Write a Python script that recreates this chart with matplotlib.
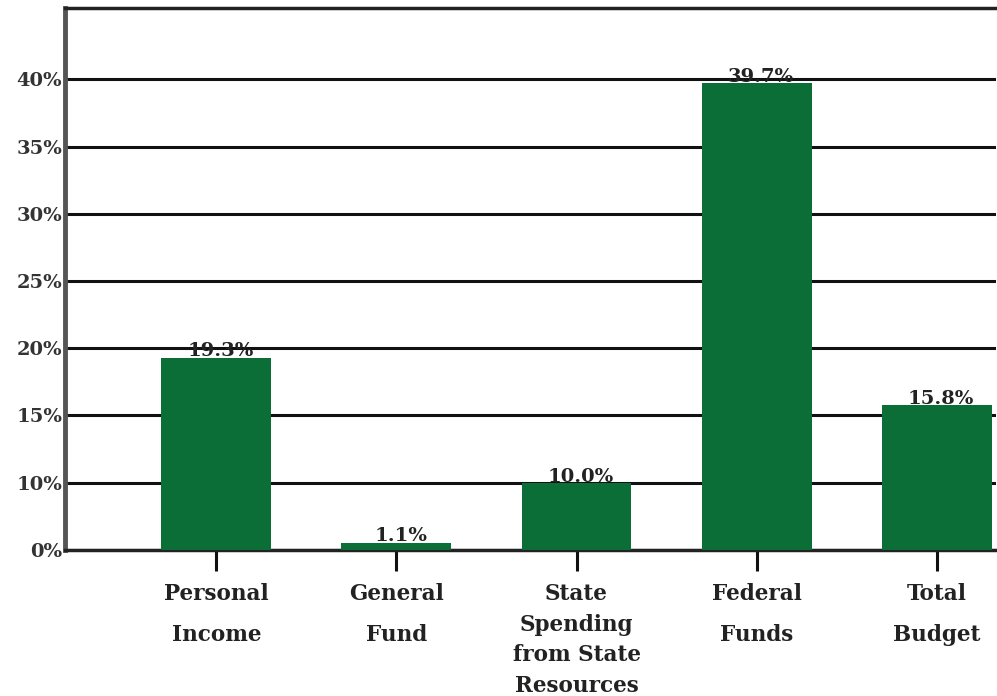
import numpy as np
import matplotlib
matplotlib.use("Agg")
import matplotlib.pyplot as plt

categories = ["Personal\nIncome", "General\nFund", "State\nSpending\nfrom State\nResources",
              "Federal\nFunds", "Total\nBudget"]
values = [19.3, 1.1, 10.0, 39.7, 15.8]
yticks = [0, 10, 15, 20, 25, 30, 35, 40]
ytick_labels = ["0%", "10%", "15%", "20%", "25%", "30%", "35%", "40%"]

GREEN = "#0b6e36"
FONT = "DejaVu Serif"

# axis is broken: 0-10% squeezed into one 5% step
def fwd(y):
    y = np.asarray(y, dtype=float)
    return np.where(y <= 10, y * 0.5, y - 5)
def inv(y):
    y = np.asarray(y, dtype=float)
    return np.where(y <= 5, y * 2, y + 5)

fig = plt.figure(figsize=(9.97, 6.96), dpi=100)
ax = fig.add_axes([0.0652, 0.2098, 0.934, 0.7787])
ax.set_yscale("function", functions=(fwd, inv))

x = np.arange(len(values))
bars = ax.bar(x, values, width=0.61, color=GREEN, zorder=3)
for rect, v in zip(bars, values):
    ax.annotate(f"{v:.1f}%", (rect.get_x() + rect.get_width() / 2, v), xytext=(3, -2),
                textcoords="offset points", ha="center", va="bottom",
                fontsize=14, fontweight="bold", family=FONT, color="#222222", zorder=4)

ax.set_xlim(-0.84, 4.33)
ax.set_ylim(0, 45.3)
ax.set_yticks(yticks)
ax.set_yticklabels(ytick_labels, family=FONT, fontsize=14, fontweight="bold", color="#333333")
ax.yaxis.set_minor_locator(matplotlib.ticker.NullLocator())
ax.tick_params(axis="y", length=0, pad=2)
ax.set_xticks(x)
ax.set_xticklabels(categories, family=FONT, fontsize=15.5, fontweight="bold", color="#222222")
for i, lbl in enumerate(ax.get_xticklabels()):
    lbl.set_linespacing(1.5 if i == 2 else 2.1)
ax.tick_params(axis="x", length=15, width=2.2, color="#111111", pad=9)

ax.grid(axis="y", color="#111111", lw=2.2, zorder=1)
ax.set_axisbelow(True)
ax.spines["left"].set_color("#555555")
ax.spines["left"].set_linewidth(3.5)
ax.spines["top"].set_color("#222222")
ax.spines["top"].set_linewidth(2.5)
ax.spines["bottom"].set_color("#222222")
ax.spines["bottom"].set_linewidth(2.5)
ax.spines["right"].set_visible(False)

fig.savefig("out.png", dpi=100)
